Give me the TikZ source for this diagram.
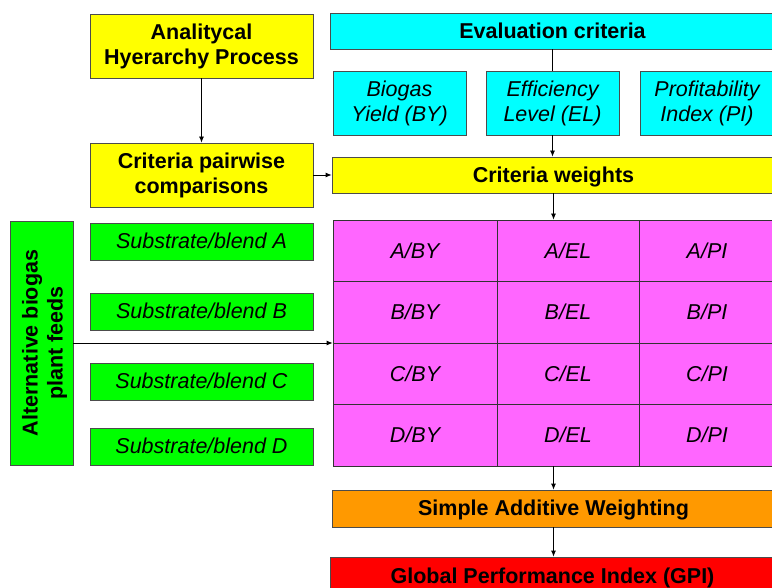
\documentclass[tikz,border=0pt]{standalone}
\usepackage{fontspec}
\setmainfont{Liberation Sans}
\usetikzlibrary{arrows.meta}
\definecolor{ahpyellow}{HTML}{FFFF00}
\definecolor{critcyan}{HTML}{00FFFF}
\definecolor{feedgreen}{HTML}{00FF00}
\definecolor{cellpink}{HTML}{FF66FF}
\definecolor{sawor}{HTML}{FF9900}
\definecolor{gpired}{HTML}{FF0000}
\newcommand\lstrut{\rule[-0.212em]{0pt}{1.117em}}
\begin{document}
\begin{tikzpicture}[x=1bp,y=-1bp,
  lbl/.style={inner sep=0pt,align=center,execute at begin node=\lstrut,
    font=\fontsize{21.5bp}{25bp}\selectfont},
  box/.style={lbl,draw=black!70,line width=.8bp},
  bbox/.style={box,font=\fontsize{21.5bp}{25bp}\selectfont\bfseries},
  ibox/.style={box,font=\fontsize{21.5bp}{25bp}\selectfont\itshape},
  cell/.style={ibox,fill=cellpink,draw=black!80,minimum height=61.5bp},
  arr/.style={-{Latex[length=6bp,width=5bp]},line width=.8bp},
  lin/.style={line width=.8bp}]
\useasboundingbox (0,0) rectangle (772,588);
\node[bbox,fill=ahpyellow,minimum width=223bp,minimum height=64bp] (ahp) at (201.5,46)
  {Analitycal\\Hyerarchy Process};
\node[bbox,fill=ahpyellow,minimum width=223bp,minimum height=64bp] (pair) at (201.5,175)
  {Criteria pairwise\\comparisons};
\node[bbox,fill=critcyan,minimum width=445bp,minimum height=36bp] (eval) at (552.5,31)
  {Evaluation criteria};
\node[ibox,fill=critcyan,minimum width=133bp,minimum height=64bp] (by) at (399.5,103)
  {Biogas\\Yield (BY)};
\node[ibox,fill=critcyan,minimum width=133bp,minimum height=64bp] (el) at (552.5,103)
  {Efficiency\\Level (EL)};
\node[ibox,fill=critcyan,minimum width=134bp,minimum height=64bp] (pi) at (707,103)
  {Profitability\\Index (PI)};
\node[bbox,fill=ahpyellow,minimum width=443bp,minimum height=36bp] (weights) at (553.5,175)
  {Criteria weights};
\node[box,fill=feedgreen,minimum width=63bp,minimum height=244bp] (feeds) at (41.5,343) {};
\node[lbl,font=\fontsize{21.5bp}{25bp}\selectfont\bfseries,rotate=90] (feedstxt)
  at ([xshift=3bp]feeds.center) {Alternative biogas\\plant feeds};
\foreach \r/\y in {A/241.5,B/311.5,C/381.5,D/446.5}
  \node[ibox,fill=feedgreen,minimum width=223bp,minimum height=37bp] (sub\r) at (201.5,\y)
    {Substrate/blend \r};
\foreach \r/\y in {A/250.75,B/312.25,C/373.75,D/435.25}{
  \node[cell,minimum width=164bp] (\r-BY) at (415,\y) {\r/BY};
  \node[cell,minimum width=142bp] (\r-EL) at (568,\y) {\r/EL};
  \node[cell,minimum width=136bp] (\r-PI) at (707,\y) {\r/PI};
}
\node[bbox,fill=sawor,minimum width=443bp,minimum height=37bp] (saw) at (553.5,508.5)
  {Simple Additive Weighting};
\node[bbox,fill=gpired,minimum width=445bp,minimum height=38bp] (gpi) at (552.5,576)
  {Global Performance Index (GPI)};
\draw[arr] (ahp) -- (pair);
\draw[arr] (pair) -- (weights);
\draw[lin] (eval) -- (el);
\draw[arr] (el.south) -- (el.south |- weights.north);
\draw[arr] (weights.south) -- (weights.south |- A-EL.north);
\draw[arr] (feeds.east) -- (feeds.east -| A-BY.west);
\draw[arr] (D-EL.south -| saw.north) -- (saw.north);
\draw[arr] (saw.south) -- (saw.south |- gpi.north);
\end{tikzpicture}
\end{document}
